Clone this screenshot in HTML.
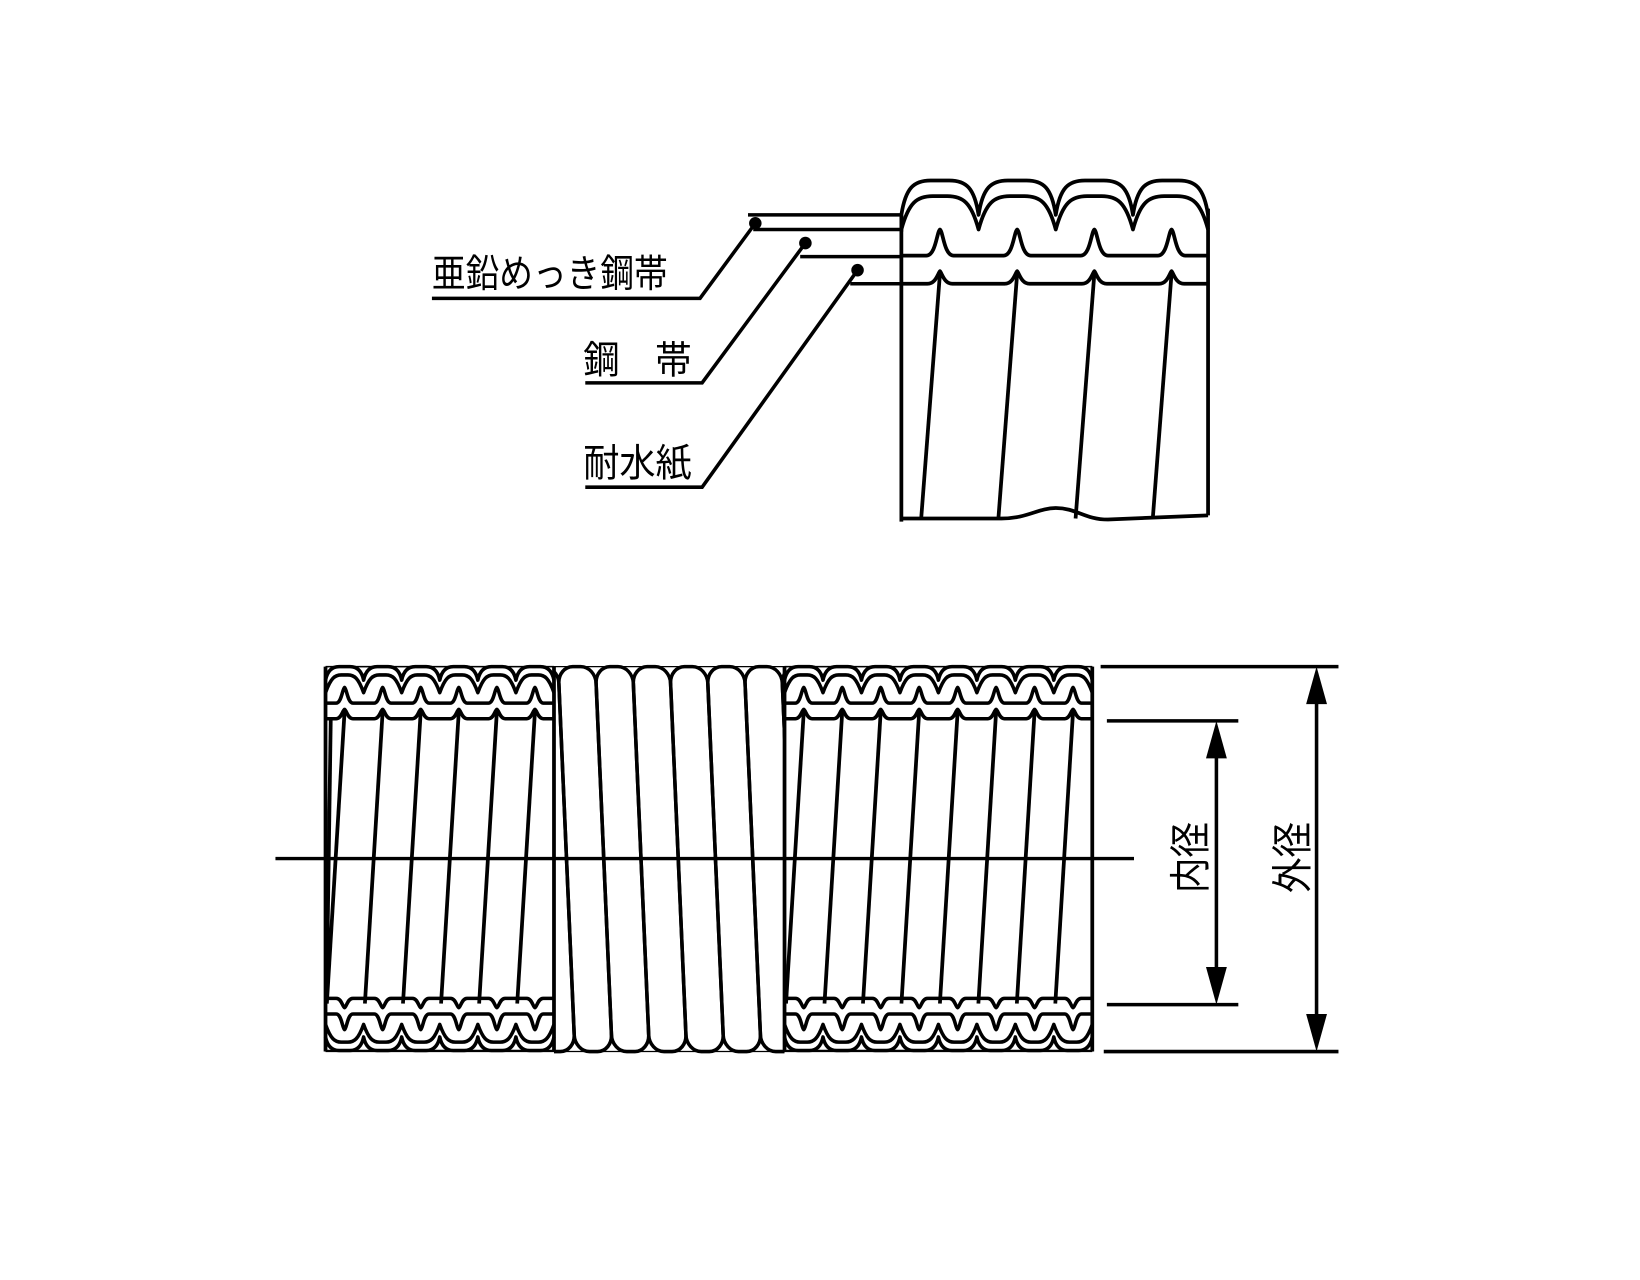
<!DOCTYPE html>
<html><head><meta charset="utf-8"><style>
html,body{margin:0;padding:0;background:#fff;}
svg{display:block;}
text{font-family:"Liberation Sans","Noto Sans CJK JP",sans-serif;fill:#000;}
</style></head><body>
<svg id="s" width="1640" height="1280" viewBox="0 0 1572 1227" xmlns="http://www.w3.org/2000/svg">
<defs><clipPath id="cc"><rect x="531" y="630" width="221" height="390"/></clipPath></defs>
<rect width="1572" height="1227" fill="#fff"/>
<g id="g" fill="none" stroke="#000" stroke-width="3.6" stroke-linejoin="round" stroke-linecap="butt"></g>
<g id="coil" clip-path="url(#cc)" fill="none" stroke="#000" stroke-width="3.4"></g>
<!-- leaders -->
<g fill="none" stroke="#000" stroke-width="3.4">
<line x1="717" y1="206" x2="864" y2="206"/>
<line x1="722" y1="220" x2="864" y2="220"/>
<polyline points="724,214 671,286 414,286"/>
<line x1="767" y1="246" x2="864" y2="246"/>
<polyline points="772,233 673,367 561,367"/>
<line x1="815" y1="272" x2="864" y2="272"/>
<polyline points="822,259 673,467 561,467"/>
</g>
<circle cx="724" cy="214" r="6"/>
<circle cx="772" cy="233" r="6"/>
<circle cx="822" cy="259" r="6"/>
<text x="414" y="275" font-size="37" textLength="226" lengthAdjust="spacingAndGlyphs">亜鉛めっき鋼帯</text>
<text x="559" y="358" font-size="37" textLength="35" lengthAdjust="spacingAndGlyphs">鋼</text>
<text x="628" y="358" font-size="37" textLength="35" lengthAdjust="spacingAndGlyphs">帯</text>
<text x="559" y="457" font-size="37" textLength="104" lengthAdjust="spacingAndGlyphs">耐水紙</text>
<!-- dimensions -->
<g stroke="#000" stroke-width="3.4">
<line x1="1055" y1="639" x2="1283" y2="639"/>
<line x1="1058" y1="1008" x2="1283" y2="1008"/>
<line x1="1061" y1="691" x2="1187" y2="691"/>
<line x1="1061" y1="963" x2="1187" y2="963"/>
<line x1="1166" y1="720" x2="1166" y2="935"/>
<line x1="1262" y1="670" x2="1262" y2="978"/>
</g>
<polygon points="1166,691 1156,727 1176,727"/>
<polygon points="1166,963 1156,927 1176,927"/>
<polygon points="1262,639 1252,675 1272,675"/>
<polygon points="1262,1008 1252,972 1272,972"/>
<text transform="translate(1155,822) rotate(-90)" text-anchor="middle" font-size="40" textLength="68" lengthAdjust="spacingAndGlyphs">内径</text>
<text transform="translate(1253,822) rotate(-90)" text-anchor="middle" font-size="40" textLength="68" lengthAdjust="spacingAndGlyphs">外径</text>
</svg>
<script>
var NS='http://www.w3.org/2000/svg';
var g=document.getElementById('g');
function P(d,w,par){var p=document.createElementNS(NS,'path');p.setAttribute('d',d);if(w)p.setAttribute('stroke-width',w);(par||g).appendChild(p);return p;}
// ---- top figure ----
(function(){
 var L=864,R=1158;
 var d='M'+L+',500 L'+L+',206 ';
 var outer='M'+L+',210 ',inner='M'+L+',222 ';
 var centers=[901,975,1049,1123];
 centers.forEach(function(cx,k){
  var a=cx-37,b=cx+37; if(k==0)a=L; if(k==3)b=R;
  outer+='L'+a+',206 C'+(a+4)+',180 '+(a+12)+',173 '+(a+28)+',173 L'+(b-28)+',173 C'+(b-12)+',173 '+(b-4)+',180 '+b+',206 ';
  inner+='L'+a+',220 C'+(a+7)+',194 '+(a+15)+',188 '+(a+30)+',188 L'+(b-30)+',188 C'+(b-15)+',188 '+(b-7)+',194 '+b+',220 ';
 });
 P(d);P(outer);P(inner);
 P('M'+R+',200 L'+R+',494');
 var band='M'+L+',245 ',pap='M'+L+',272 ';
 centers.forEach(function(cx){
  band+='L'+(cx-13)+',245 C'+(cx-4)+',245 '+(cx-3)+',222 '+cx+',220 C'+(cx+3)+',222 '+(cx+4)+',245 '+(cx+13)+',245 ';
  pap+='L'+(cx-12)+',272 C'+(cx-4)+',272 '+(cx-2)+',262 '+cx+',260 C'+(cx+2)+',262 '+(cx+4)+',272 '+(cx+12)+',272 ';
  P('M'+cx+',262 L'+(cx-18)+',497');
 });
 band+='L'+R+',245';pap+='L'+R+',272';
 P(band);P(pap);
 P('M'+L+',497 L960,497 C985,497 995,487 1012,487 C1032,487 1040,498 1062,498 L'+R+',494');
})();
// ---- bottom figure ----
function section(L,R,n,top){
 var s=top?1:-1, C=823, y=function(v){return C-s*(C-v);};
 var p=(R-L)/n, o='M'+L+','+y(652)+' ', w='M'+L+','+y(664)+' ', b1='M'+L+','+y(674)+' ', b2='M'+L+','+y(689)+' ';
 for(var k=0;k<n;k++){
  var a=L+k*p, b=a+p, c=a+p/2;
  o+='L'+a+','+y(652)+' C'+(a+2)+','+y(642)+' '+(a+7)+','+y(639)+' '+(a+13)+','+y(639)+' L'+(b-13)+','+y(639)+' C'+(b-7)+','+y(639)+' '+(b-2)+','+y(642)+' '+b+','+y(652)+' ';
  w+='L'+a+','+y(664)+' C'+(a+5)+','+y(650)+' '+(a+9)+','+y(647)+' '+(a+15)+','+y(647)+' L'+(b-15)+','+y(647)+' C'+(b-9)+','+y(647)+' '+(b-5)+','+y(650)+' '+b+','+y(664)+' ';
  b1+='L'+(c-8)+','+y(674)+' C'+(c-3)+','+y(674)+' '+(c-2)+','+y(660)+' '+c+','+y(659)+' C'+(c+2)+','+y(660)+' '+(c+3)+','+y(674)+' '+(c+8)+','+y(674)+' ';
  b2+='L'+(c-8)+','+y(689)+' C'+(c-3)+','+y(689)+' '+(c-2)+','+y(681)+' '+c+','+y(680)+' C'+(c+2)+','+y(681)+' '+(c+3)+','+y(689)+' '+(c+8)+','+y(689)+' ';
 }
 o+='L'+R+','+y(652);w+='L'+R+','+y(664);b1+='L'+R+','+y(674);b2+='L'+R+','+y(689);
 P(o,3.4);P(w,3.4);P(b1,3.4);P(b2,3.4);
 P('M'+L+','+y(639)+' L'+R+','+y(639),1.5);
}
function body(L,R,n){
 var p=(R-L)/n;
 for(var k=0;k<n;k++){var c=L+k*p+p/2; P('M'+c+',682 L'+(c-17)+',962');}
 P('M'+L+',639 L'+L+',1008');P('M'+R+',639 L'+R+',1008');
}
section(312,531,6,true);section(312,531,6,false);body(312,531,6);
section(752,1047,8,true);section(752,1047,8,false);body(752,1047,8);
P('M317,690 L313,962');
// coils (skewed, clipped)
var cg=document.getElementById('coil');
var sk=document.createElementNS(NS,'g');
sk.setAttribute('transform','translate(0,823) skewX(2.5) translate(0,-823)');
cg.appendChild(sk);
for(var k=-1;k<7;k++){
 var a=543+k*35.7, w=35.7;
 var r=document.createElementNS(NS,'rect');
 r.setAttribute('x',a);r.setAttribute('y',639);r.setAttribute('width',w);r.setAttribute('height',369);
 r.setAttribute('rx',14);r.setAttribute('ry',16);
 sk.appendChild(r);
}
P('M312,639 L1047,639',1.2);P('M312,1008 L1047,1008',1.2);
P('M264,823 L1087,823',3.2);
</script>
</body></html>
